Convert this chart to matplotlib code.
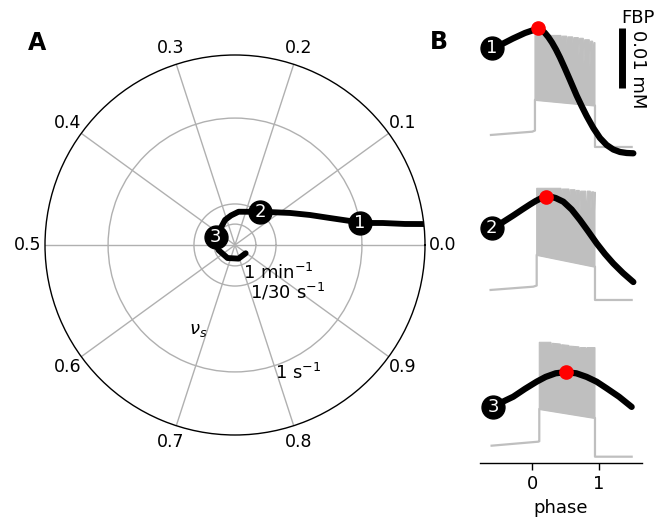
import numpy as np
import matplotlib
matplotlib.use("Agg")
import matplotlib.pyplot as plt

W, H, DPI = 666, 520, 100

# ---------------- Panel A data (polar) ----------------
theta_ticks = [0.0, 0.1, 0.2, 0.3, 0.4, 0.5, 0.6, 0.7, 0.8, 0.9]
theta_labels = ["0.0", "0.1", "0.2", "0.3", "0.4", "0.5", "0.6", "0.7", "0.8", "0.9"]
grid_radii = [0.11, 0.216, 0.668]
curve_phase = [0.0175, 0.0196, 0.0235, 0.0278, 0.0328, 0.044, 0.0606, 0.084, 0.120,
               0.147, 0.233, 0.271, 0.31, 0.439, 0.5, 0.55, 0.667, 0.79, 0.895]
curve_r = [1.005, 0.901, 0.787, 0.668, 0.618, 0.52, 0.425, 0.335, 0.253,
           0.219, 0.176, 0.157, 0.142, 0.109, 0.100, 0.090, 0.079, 0.074, 0.071]
marker_idx = [3, 9, 13]
marker_labels = ["1", "2", "3"]

# ---------------- Panel B data ----------------
fbp_phase = [
    [-0.61, -0.45, -0.29, -0.11, 0.0, 0.09, 0.14, 0.19, 0.24, 0.295, 0.355, 0.415, 0.49,
     0.565, 0.665, 0.74, 0.815, 0.915, 1.015, 1.115, 1.215, 1.315, 1.415, 1.515],
    [-0.61, -0.45, -0.285, -0.15, -0.035, 0.05, 0.13, 0.205, 0.28, 0.35, 0.465, 0.59,
     0.715, 0.84, 0.965, 1.09, 1.215, 1.36, 1.515],
    [-0.585, -0.435, -0.285, -0.11, 0.065, 0.2, 0.35, 0.505, 0.66, 0.815, 0.965, 1.115, 1.3, 1.49],
]
fbp_mM = [
    [0.02140, 0.02212, 0.02303, 0.02395, 0.02437, 0.02470, 0.02448, 0.02395, 0.02328,
     0.02237, 0.02120, 0.01987, 0.01803, 0.01612, 0.01353, 0.01178, 0.01012, 0.00812,
     0.00645, 0.00528, 0.00453, 0.00412, 0.00395, 0.00390],
    [0.02323, 0.02420, 0.02537, 0.02637, 0.02720, 0.02778, 0.02823, 0.02850, 0.02848,
     0.02828, 0.02767, 0.02637, 0.02462, 0.02270, 0.02073, 0.01895, 0.01737, 0.01578, 0.01428],
    [0.0253, 0.0262, 0.0270, 0.0283, 0.0295, 0.0303, 0.0309, 0.0311, 0.0309, 0.0303,
     0.0295, 0.0284, 0.0270, 0.0253],
]
fbp_ylo = [0.004, 0.010, 0.016]

# membrane potential trace: baseline line + burst envelope (mV)
v_line_phase = [
    [-0.62, 0.0, 0.04, 0.04, 0.94, 0.94, 1.49],
    [-0.625, 0.015, 0.066, 0.066, 0.94, 0.94, 1.49],
    [-0.61, 0.09, 0.105, 0.105, 0.94, 0.94, 1.49],
]
v_line_mV = [
    [-67.6, -65.3, -64.5, -43.0, -47.0, -76.0, -76.0],
    [-67.6, -65.3, -64.5, -43.0, -51.3, -74.6, -74.6],
    [-68.1, -65.3, -65.0, -42.4, -48.7, -75.8, -75.8],
]
v_up_phase = [
    [0.04, 0.43, 0.44, 0.45, 0.515, 0.525, 0.535, 0.605, 0.615, 0.625, 0.69, 0.70, 0.71,
     0.765, 0.775, 0.785, 0.855, 0.865, 0.875, 0.905, 0.915, 0.925, 0.94],
    [0.066, 0.43, 0.44, 0.45, 0.55, 0.56, 0.57, 0.64, 0.65, 0.66, 0.705, 0.715, 0.725,
     0.80, 0.815, 0.825, 0.87, 0.88, 0.89, 0.92, 0.93, 0.94],
    [0.105, 0.28, 0.29, 0.30, 0.42, 0.43, 0.44, 0.55, 0.56, 0.57, 0.70, 0.71, 0.72,
     0.80, 0.81, 0.82, 0.94],
]
v_up_mV = [
    [2, 2, -6, 1.5, 1.5, -10, 1, 1, -8, 0.5, 0.5, -12, 0, 0, -18, -1, -1, -20, -2, -2, -15, -3, -3],
    [3.5, 3.5, -4, 3, 3, -8, 2.5, 2.5, -6, 2, 2, -14, 1.5, 1.5, -20, 1.5, 1.5, -12, 1, 1, -16, 1],
    [4.2, 4.2, -4.7, 3.5, 3, -1, 2.5, 2, -2, 1.5, 1, -3, 0.5, 0.5, -2, 0.5, 0.5],
]
v_low_phase = [[0.04, 0.94], [0.066, 0.94], [0.105, 0.94]]
v_low_mV = [[-43.0, -47.0], [-43.0, -51.3], [-42.4, -48.7]]

GRAY = "#bfbfbf"
GRID = "#b0b0b0"
FS = 13

fig = plt.figure(figsize=(W / DPI, H / DPI), dpi=DPI)

# ---------------- Panel A ----------------
axA = fig.add_axes([45 / W, (H - 435) / H, 380 / W, 380 / H], projection="polar")
th = 2 * np.pi * np.asarray(curve_phase)
axA.plot(th, curve_r, color="k", lw=4.2, solid_capstyle="round", zorder=4)
for i, lab in zip(marker_idx, marker_labels):
    axA.plot(th[i], curve_r[i], "o", ms=16.5, color="k", zorder=5, clip_on=False)
    axA.text(th[i], curve_r[i], lab, color="w", ha="center", va="center",
             fontsize=FS, zorder=6)
axA.set_ylim(0, 1)
axA.set_xticks(2 * np.pi * np.asarray(theta_ticks))
axA.set_xticklabels(theta_labels, fontsize=12.5)
axA.set_yticks(grid_radii)
axA.set_yticklabels([])
axA.grid(True, color=GRID, lw=1)
axA.spines["polar"].set_linewidth(1)
axA.tick_params(axis="x", pad=2)

fig.text(278 / W, 1 - 273 / H, r"1 min$^{-1}$", ha="center", va="center", fontsize=FS)
fig.text(288 / W, 1 - 292 / H, r"1/30 s$^{-1}$", ha="center", va="center", fontsize=FS)
fig.text(298 / W, 1 - 373 / H, r"1 s$^{-1}$", ha="center", va="center", fontsize=FS)
fig.text(198 / W, 1 - 330 / H, r"$\nu_s$", ha="center", va="center", fontsize=FS)

fig.text(37 / W, 1 - 43 / H, "A", ha="center", va="center", fontsize=17, fontweight="bold")
fig.text(439 / W, 1 - 42 / H, "B", ha="center", va="center", fontsize=17, fontweight="bold")

# ---------------- Panel B ----------------
bottoms = [152.7, 307.7, 462.7]
span_mM = 140 / 6000.0
for k in range(3):
    axv = fig.add_axes([480 / W, (H - bottoms[k]) / H, 162 / W, 140 / H])
    axv.set_xlim(-0.784, 1.645)
    axv.set_ylim(-80, -80 + 140 / 1.43)
    axv.plot(v_line_phase[k], v_line_mV[k], color=GRAY, lw=1.6, zorder=1)
    px = list(v_up_phase[k]) + list(v_low_phase[k][::-1])
    py = list(v_up_mV[k]) + list(v_low_mV[k][::-1])
    axv.fill(px, py, color=GRAY, lw=0.8, ec=GRAY, zorder=1)
    for s in ["top", "right", "left"]:
        axv.spines[s].set_visible(False)
    axv.set_yticks([])
    if k < 2:
        axv.spines["bottom"].set_visible(False)
        axv.set_xticks([])
    else:
        axv.set_xticks([0, 1])
        axv.set_xticklabels(["0", "1"], fontsize=FS)
        axv.set_xlabel("phase", fontsize=FS, labelpad=5)
        axv.tick_params(axis="x", length=5, width=1)
        axv.spines["bottom"].set_linewidth(1)

    axf = axv.twinx()
    axf.set_ylim(fbp_ylo[k], fbp_ylo[k] + span_mM)
    axf.set_xlim(-0.784, 1.645)
    for s in axf.spines.values():
        s.set_visible(False)
    axf.set_yticks([])
    ph = np.asarray(fbp_phase[k])
    fb = np.asarray(fbp_mM[k])
    axf.plot(ph, fb, color="k", lw=4.5, solid_capstyle="round", solid_joinstyle="round",
             zorder=3, clip_on=False)
    j = int(np.argmax(fb))
    axf.plot(ph[j], fb[j], "o", color="red", ms=9.5, zorder=5, clip_on=False)
    axf.plot(ph[0], fb[0], "o", color="k", ms=16.5, zorder=5, clip_on=False)
    axf.text(ph[0], fb[0], marker_labels[k], color="w", ha="center", va="center",
             fontsize=FS, zorder=6)
    if k == 0:
        top = fbp_ylo[0] + (bottoms[0] - 28.3) / 6000.0
        axf.plot([1.35, 1.35], [top - 0.01, top], color="k", lw=5,
                 solid_capstyle="butt", clip_on=False)

fig.text(638 / W, 1 - 18 / H, "FBP", ha="center", va="center", fontsize=FS)
fig.text(638 / W, 1 - 69 / H, "0.01 mM", ha="center", va="center", fontsize=FS, rotation=270)

fig.savefig("out.png", dpi=DPI)
